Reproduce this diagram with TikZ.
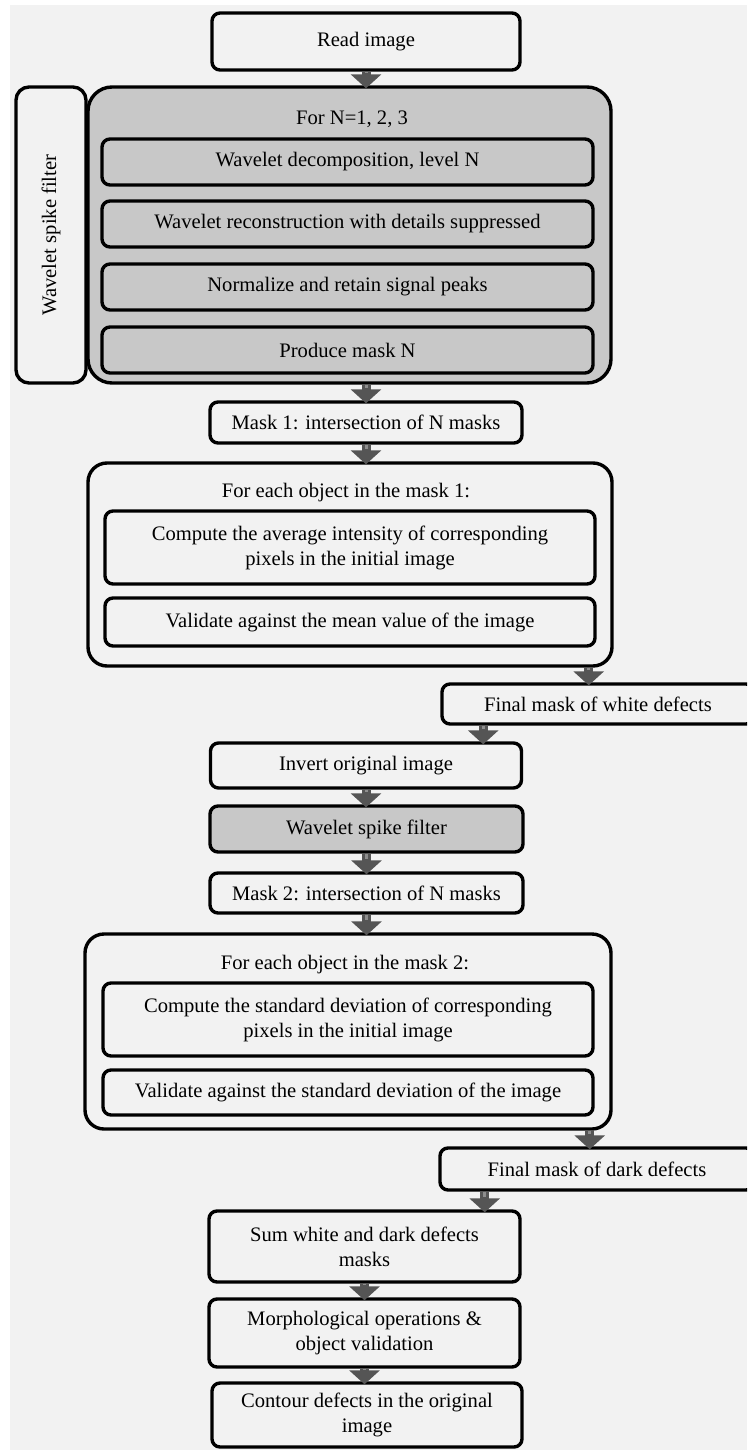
\documentclass[tikz,border=0pt]{standalone}
\usepackage{fontspec}
\setmainfont{Liberation Serif}
\usepackage{tikz}
\usetikzlibrary{arrows.meta}
\definecolor{bggray}{HTML}{F2F2F2}
\definecolor{boxgray}{HTML}{C8C8C8}
\definecolor{arrowdark}{HTML}{555555}
\definecolor{arrowlight}{HTML}{8E8E8E}
\tikzstyle{plainbox} = [rectangle, draw, line width=3.4pt, rounded corners=8pt, align=center, inner sep=0pt]
\tikzstyle{graybox} = [plainbox, fill=boxgray]
\tikzstyle{groupbox} = [plainbox, rounded corners=19pt]
\tikzstyle{arrow} = [draw=arrowdark, line width=9pt, -{Triangle[width=30pt, length=14pt]}, shorten >=-3pt, postaction={draw=arrowlight, line width=3pt, -, shorten >=12pt}]

\begin{document}
\begin{tikzpicture}[x=1pt, y=-1pt, font=\fontsize{20.6}{25}\selectfont]
    \useasboundingbox (0,0) rectangle (747,1450);
    \clip (0,0) rectangle (747,1450);
    \fill [bggray] (10,5) rectangle (747,1450);

    % nodes
    \node (read) [plainbox, minimum width=308pt, minimum height=57pt] at (366,41.5) {Read image};
    \node (side) [plainbox, rounded corners=13pt, rotate=90, minimum width=296pt, minimum height=70pt] at (51,235) {Wavelet spike filter};
    \node (loop) [graybox, rounded corners=24pt, minimum width=523pt, minimum height=296pt] at (349.5,235) {};
    \node (forn) at (352,119) {For N=1, 2, 3};
    \node (decomp) [graybox, minimum width=491pt, minimum height=46pt] at (347.5,162) {Wavelet decomposition, level N};
    \node (recon) [graybox, minimum width=491pt, minimum height=46pt] at (347.5,224) {Wavelet reconstruction with details suppressed};
    \node (norm) [graybox, minimum width=491pt, minimum height=46pt] at (347.5,287) {Normalize and retain signal peaks};
    \node (produce) [graybox, minimum width=491pt, minimum height=46pt] at (347.5,350) {Produce mask N};

    \node (mask1) [plainbox, minimum width=312pt, minimum height=41pt] at (366,422.5) {Mask 1: intersection of N masks};
    \node (each1) [groupbox, minimum width=524pt, minimum height=203pt] at (350,564.5) {};
    \node (each1label) at (346,493) {For each object in the mask 1:};
    \node (avg) [plainbox, minimum width=490pt, minimum height=73pt] at (350,547.5) {Compute the average intensity of corresponding\\pixels in the initial image};
    \node (mean) [plainbox, minimum width=490pt, minimum height=48pt] at (350,622) {Validate against the mean value of the image};
    \node (white) [plainbox, minimum width=312pt, minimum height=40pt] at (598,704) {Final mask of white defects};

    \node (invert) [plainbox, minimum width=311pt, minimum height=45pt] at (366,765.5) {Invert original image};
    \node (spike) [graybox, minimum width=313pt, minimum height=46pt] at (366.5,829) {Wavelet spike filter};
    \node (mask2) [plainbox, minimum width=313pt, minimum height=40pt] at (366.5,893) {Mask 2: intersection of N masks};
    \node (each2) [groupbox, minimum width=526pt, minimum height=195pt] at (348,1031.5) {};
    \node (each2label) at (345,965) {For each object in the mask 2:};
    \node (std) [plainbox, minimum width=490pt, minimum height=73pt] at (348,1019.5) {Compute the standard deviation of corresponding\\pixels in the initial image};
    \node (stdval) [plainbox, minimum width=490pt, minimum height=45pt] at (348,1092.5) {Validate against the standard deviation of the image};
    \node (dark) [plainbox, minimum width=314pt, minimum height=42pt] at (597,1169) {Final mask of dark defects};

    \node (sum) [plainbox, minimum width=311pt, minimum height=71pt] at (364.5,1246.5) {Sum white and dark defects\\masks};
    \node (morph) [plainbox, minimum width=311pt, minimum height=68pt] at (364.5,1333) {Morphological operations \&\\object validation};
    \node (contour) [plainbox, minimum width=310pt, minimum height=64pt] at (367,1415) {Contour defects in the original\\image};

    % edges
    \draw [arrow] (read.south) -- (read.south |- loop.north);
    \draw [arrow] (loop.south -| mask1.north) -- (mask1.north);
    \draw [arrow] (mask1.south) -- (mask1.south |- each1.north);
    \draw [arrow] ([xshift=-25pt]each1.south east) -- ([xshift=-25pt]each1.south east |- white.north);
    \draw [arrow] ([xshift=-40pt]invert.north east |- white.south) -- ([xshift=-40pt]invert.north east);
    \draw [arrow] (invert.south) -- (invert.south |- spike.north);
    \draw [arrow] (spike.south) -- (spike.south |- mask2.north);
    \draw [arrow] (mask2.south) -- (mask2.south |- each2.north);
    \draw [arrow] ([xshift=-23pt]each2.south east) -- ([xshift=-23pt]each2.south east |- dark.north);
    \draw [arrow] ([xshift=-37pt]sum.north east |- dark.south) -- ([xshift=-37pt]sum.north east);
    \draw [arrow] (sum.south) -- (morph.north);
    \draw [arrow] (morph.south) -- (morph.south |- contour.north);

\end{tikzpicture}
\end{document}
